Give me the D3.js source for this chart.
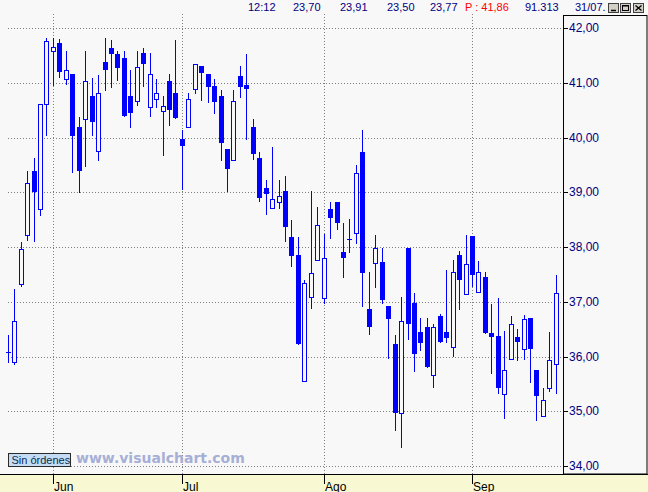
<!DOCTYPE html>
<html>
<head>
<meta charset="utf-8">
<script src="https://cdn.jsdelivr.net/npm/d3@7"></script>
<style>
  body { margin: 0; background: #f8f8f8; }
  svg { display: block; }
</style>
</head>
<body>
<div id="root"></div>
<script>
"use strict";

/* ************************************* Data ******************************** */

// daily candles, late May to end of September
const opens  = [36.09,35.91,37.33,38.22,39.40,38.70,40.62,41.58,41.73,41.07,41.16,40.20,40.34,40.77,39.77,41.38,41.64,41.53,41.46,40.76,
                40.68,41.55,40.56,40.71,40.49,41.04,40.82,39.99,40.20,40.89,41.32,41.17,40.95,40.77,39.80,39.59,41.13,40.97,40.20,39.63,
                39.08,38.73,38.84,39.04,38.19,37.86,35.57,37.09,37.78,37.07,38.70,38.84,37.91,38.15,38.26,39.74,36.87,37.71,37.73,36.94,
                36.23,34.97,38.00,36.98,36.46,36.54,35.68,36.74,36.46,36.18,37.86,37.15,38.21,37.18,37.46,36.43,36.38,35.32,35.96,36.36,
                36.14,36.71,35.76,34.92,35.43,35.87];
const highs  = [36.40,37.25,38.10,39.40,39.63,40.63,41.82,41.82,41.81,41.59,41.16,40.38,41.59,41.09,41.15,41.82,41.79,41.59,41.59,41.24,
                41.59,41.64,41.55,41.08,40.77,41.17,41.79,40.15,40.82,41.36,41.32,41.17,41.07,40.88,39.80,40.88,41.32,41.53,40.35,39.74,
                39.23,39.84,39.23,39.31,38.50,38.19,37.41,39.03,38.74,38.25,38.84,38.84,38.44,38.52,39.51,40.15,37.55,38.23,37.99,36.94,
                36.41,37.10,38.00,37.17,36.71,36.71,36.60,36.79,37.59,37.77,37.94,38.23,38.21,37.75,37.55,36.97,37.07,36.47,36.74,36.51,
                36.76,36.71,35.76,35.43,36.46,37.50];
const lows   = [35.91,35.88,37.30,38.14,38.11,38.59,40.05,40.97,41.12,40.99,39.38,39.02,39.49,40.05,39.60,40.88,40.94,41.06,40.41,40.21,
                40.60,40.95,40.40,40.57,39.69,40.24,40.37,39.07,40.20,40.83,40.69,40.65,40.46,39.59,39.04,39.59,40.74,39.99,39.62,38.85,
                38.62,38.73,38.73,38.11,37.67,36.24,35.57,36.89,37.78,36.98,38.18,38.33,37.47,37.92,38.08,36.94,36.42,37.27,36.98,35.98,
                34.67,34.36,36.33,35.75,36.13,35.82,35.46,36.28,36.28,36.01,36.88,37.15,37.30,37.18,36.44,35.71,35.35,34.89,35.96,35.95,
                35.96,35.55,34.85,34.92,35.38,35.35];
const closes = [36.09,36.65,37.97,39.17,39.02,40.63,41.78,41.66,41.21,41.25,40.04,39.40,41.04,40.30,40.82,41.25,41.54,41.27,40.41,40.46,
                41.29,41.36,41.16,40.83,40.58,40.52,40.37,39.86,40.71,41.36,41.18,40.94,40.65,39.91,39.44,40.68,40.94,40.90,39.70,38.91,
                38.97,38.88,38.94,38.38,37.85,36.24,37.36,37.53,38.42,37.80,38.53,38.44,37.81,38.13,39.36,37.54,36.54,38.00,37.05,36.70,
                34.97,36.65,36.60,36.06,36.26,35.82,36.54,36.28,36.34,37.55,37.41,37.69,37.49,37.55,36.44,36.37,35.43,35.76,36.60,36.28,
                36.70,36.14,35.29,35.21,35.95,37.16];

// month boundaries (candle index) and names
const monthIndex = [7, 27, 49, 72];
const monthNames = ["Jun", "Jul", "Ago", "Sep"];

// price axis ticks
const priceTicks = [34, 35, 36, 37, 38, 39, 40, 41, 42];

// quote header
const headerTexts = ["12:12", "23,70", "23,91", "23,50", "23,77"];
const lastPrice = "P : 41,86";
const volumeText = "91.313";
const dateText = "31/07.";

/* ************************************* Set up ******************************** */

const width = 648;
const height = 492;
const plotRight = 563;
const axisY = 474;
const bg = "#f8f8f8";
const blue = "#0000ff";
const navy = "#000080";

let svg = d3.select('#root')
    .append('svg')
    .attr('width', width)
    .attr('height', height)
    .style('font-family', '"Liberation Sans", Arial, sans-serif');

svg.append('rect').attr('width', width).attr('height', height).attr('fill', bg);

let data = opens.map((o, i) => ({ i: i, o: o, h: highs[i], l: lows[i], c: closes[i] }));

/* ************************************* Scales ******************************** */

let xScale = d3.scaleLinear().domain([0, data.length - 1]).range([8.3, 556.3]);
let yScale = d3.scaleLinear().domain([34, 42]).range([466.5, 28.5]);

const px = (v) => Math.floor(v) + 0.5;

/* ************************************* Grid ******************************** */

let grid = svg.append('g')
    .attr('stroke', '#808080')
    .attr('stroke-dasharray', '1,2');

grid.selectAll('line.h').data(priceTicks).enter().append('line')
    .attr('class', 'h')
    .attr('x1', 8).attr('x2', plotRight)
    .attr('y1', (d) => px(yScale(d))).attr('y2', (d) => px(yScale(d)));

grid.selectAll('line.v').data(monthIndex).enter().append('line')
    .attr('class', 'v')
    .attr('x1', (d) => px(xScale(d))).attr('x2', (d) => px(xScale(d)))
    .attr('y1', 14).attr('y2', axisY);

/* ************************************* Candles ******************************** */

let candles = svg.append('g').selectAll('g').data(data).enter().append('g');

candles.append('line')
    .attr('x1', (d) => px(xScale(d.i))).attr('x2', (d) => px(xScale(d.i)))
    .attr('y1', (d) => Math.round(yScale(d.h))).attr('y2', (d) => Math.round(yScale(d.l)) + 1)
    .attr('stroke', blue);

// down days (and dojis) are solid
candles.filter((d) => d.c <= d.o).append('rect')
    .attr('x', (d) => px(xScale(d.i)) - 2.5)
    .attr('width', 5)
    .attr('y', (d) => Math.round(yScale(d.o)))
    .attr('height', (d) => Math.max(1, Math.round(yScale(d.c)) - Math.round(yScale(d.o))))
    .attr('fill', blue);

// up days are hollow
candles.filter((d) => d.c > d.o).append('rect')
    .attr('x', (d) => px(xScale(d.i)) - 2)
    .attr('width', 4)
    .attr('y', (d) => Math.round(yScale(d.c)) + 0.5)
    .attr('height', (d) => Math.max(1, Math.round(yScale(d.o)) - Math.round(yScale(d.c))))
    .attr('fill', bg)
    .attr('stroke', blue);

/* ************************************* Price axis ******************************** */

let fmt = d3.formatLocale({ decimal: ",", thousands: ".", grouping: [3], currency: ["", ""] }).format(".2f");

svg.append('rect')
    .attr('x', plotRight + 0.5).attr('y', 15.5)
    .attr('width', 647 - plotRight - 0.5).attr('height', axisY - 15.5)
    .attr('fill', 'none').attr('stroke', '#000');

let yAxis = d3.axisRight(yScale).tickValues(priceTicks).tickFormat(fmt).tickSize(5).tickPadding(1).offset(0);
let yAxisG = svg.append('g')
    .attr('transform', `translate(${plotRight}, 0)`)
    .call(yAxis);
yAxisG.select('.domain').remove();
yAxisG.selectAll('.tick').attr('transform', (d) => `translate(0, ${px(yScale(d))})`);
yAxisG.selectAll('.tick line').attr('stroke', '#000');
yAxisG.selectAll('.tick text')
    .attr('fill', navy)
    .style('font-size', '12px')
    .style('font-family', '"Liberation Sans", Arial, sans-serif');

/* ************************************* Time axis ******************************** */

svg.append('rect').attr('x', 0).attr('y', axisY + 1).attr('width', width).attr('height', height - axisY - 1)
    .attr('fill', '#f8f8d2');
svg.append('line').attr('x1', 0).attr('x2', width).attr('y1', axisY + 0.5).attr('y2', axisY + 0.5)
    .attr('stroke', '#000');

let xAxis = d3.axisBottom(xScale).tickValues(monthIndex)
    .tickFormat((d, k) => monthNames[k]).tickSize(9).offset(0);
let xAxisG = svg.append('g')
    .attr('transform', `translate(0, ${axisY + 1})`)
    .call(xAxis);
xAxisG.select('.domain').remove();
xAxisG.selectAll('.tick').attr('transform', (d) => `translate(${px(xScale(d))}, 0)`);
xAxisG.selectAll('.tick line').attr('stroke', '#000');
xAxisG.selectAll('.tick text')
    .attr('x', 0.5).attr('y', 15.5).attr('dy', null)
    .attr('fill', '#000')
    .style('text-anchor', 'start')
    .style('font-size', '12px')
    .style('font-family', '"Liberation Sans", Arial, sans-serif');

/* ************************************* Overlays ******************************** */

svg.append('text')
    .attr('x', 76).attr('y', 462.7)
    .style('font-family', '"DejaVu Sans", Verdana, sans-serif')
    .style('font-weight', 'bold')
    .style('font-size', '14px')
    .attr('fill', '#a6afd6')
    .text('www.visualchart.com');

svg.append('rect')
    .attr('x', 8.5).attr('y', 453.5).attr('width', 62).attr('height', 13)
    .attr('fill', '#c4dcf4').attr('stroke', '#2a2a2a');
svg.append('text')
    .attr('x', 11.5).attr('y', 464)
    .style('font-size', '11px')
    .attr('fill', '#0c2c50')
    .text('Sin órdenes');

/* ************************************* Header ******************************** */

const headerX = [248, 293, 340, 387, 430];
let header = svg.append('g').style('font-size', '11px');
header.selectAll('text').data(headerTexts).enter().append('text')
    .attr('x', (d, k) => headerX[k]).attr('y', 11)
    .attr('fill', navy)
    .text((d) => d);
header.append('text').attr('x', 465).attr('y', 11).attr('fill', '#ff0000').text(lastPrice);
header.append('text').attr('x', 525).attr('y', 11).attr('fill', navy).text(volumeText);
header.append('text').attr('x', 575).attr('y', 11).attr('fill', navy).text(dateText);

// window buttons
const btnX = [608, 620, 633];
let btns = svg.append('g');
btns.selectAll('rect').data(btnX).enter().append('rect')
    .attr('x', (d) => d + 0.5).attr('y', 3.5).attr('width', 10).attr('height', 9)
    .attr('fill', '#d4d0c8').attr('stroke', '#404040');
btns.append('line').attr('x1', 611).attr('x2', 616).attr('y1', 10.5).attr('y2', 10.5).attr('stroke', '#000').attr('stroke-width', 1.5);
btns.append('rect').attr('x', 622.5).attr('y', 5.5).attr('width', 6).attr('height', 5)
    .attr('fill', 'none').attr('stroke', '#000');
btns.append('line').attr('x1', 622.5).attr('x2', 628.5).attr('y1', 6).attr('y2', 6).attr('stroke', '#000');
btns.append('path').attr('d', 'M635.5,5.5 L641.5,10.5 M641.5,5.5 L635.5,10.5')
    .attr('stroke', '#000').attr('stroke-width', 1.3);
</script>
</body>
</html>
